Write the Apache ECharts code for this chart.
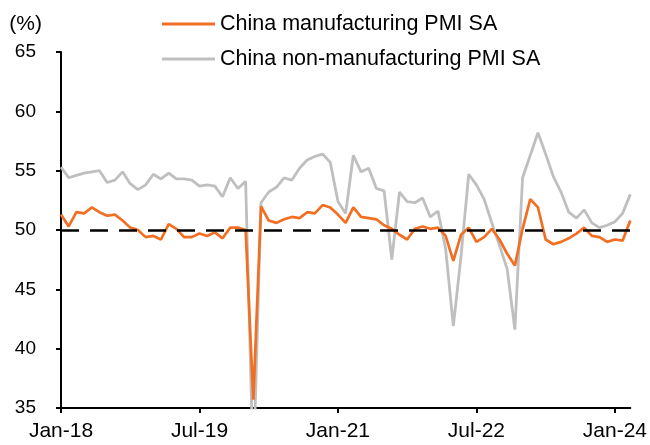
<!DOCTYPE html>
<html>
<head>
<meta charset="utf-8">
<script src="https://cdn.jsdelivr.net/npm/echarts@6/dist/echarts.min.js"></script>
<style>
html,body{margin:0;padding:0;background:#fff;}
#chart{width:650px;height:445px;}
</style>
</head>
<body>
<div id="chart"></div>
<script>
var monthNames = ['Jan','Feb','Mar','Apr','May','Jun','Jul','Aug','Sep','Oct','Nov','Dec'];
var years = ['18','19','20','21','22','23','24'];
var categories = [];
years.forEach(function (y) {
  monthNames.forEach(function (m) {
    categories.push(m + '-' + y);
  });
});
categories = categories.slice(0, 75);

var seriesNames = ['China manufacturing PMI SA', 'China non-manufacturing PMI SA'];

var mfgPMI = [
  51.3, 50.3, 51.5, 51.4, 51.9, 51.5, 51.2, 51.3, 50.8, 50.2, 50.0, 49.4,
  49.5, 49.2, 50.5, 50.1, 49.4, 49.4, 49.7, 49.5, 49.8, 49.3, 50.2, 50.2,
  50.0, 35.7, 52.0, 50.8, 50.6, 50.9, 51.1, 51.0, 51.5, 51.4, 52.1, 51.9,
  51.3, 50.6, 51.9, 51.1, 51.0, 50.9, 50.4, 50.1, 49.6, 49.2, 50.1, 50.3,
  50.1, 50.2, 49.5, 47.4, 49.6, 50.2, 49.0, 49.4, 50.1, 49.2, 48.0, 47.0,
  50.1, 52.6, 51.9, 49.2, 48.8, 49.0, 49.3, 49.7, 50.2, 49.5, 49.4, 49.0,
  49.2, 49.1, 50.8
];

var nonMfgPMI = [
  55.3, 54.4, 54.6, 54.8, 54.9, 55.0, 54.0, 54.2, 54.9, 53.9, 53.4, 53.8,
  54.7, 54.3, 54.8, 54.3, 54.3, 54.2, 53.7, 53.8, 53.7, 52.8, 54.4, 53.5,
  54.1, 29.6, 52.3, 53.2, 53.6, 54.4, 54.2, 55.2, 55.9, 56.2, 56.4, 55.7,
  52.4, 51.4, 56.3, 54.9, 55.2, 53.5, 53.3, 47.5, 53.2, 52.4, 52.3, 52.7,
  51.1, 51.6, 48.4, 41.9, 47.8, 54.7, 53.8, 52.6, 50.6, 48.7, 46.7, 41.6,
  54.4, 56.3, 58.2, 56.4, 54.5, 53.2, 51.5, 51.0, 51.7, 50.6, 50.2, 50.4,
  50.7, 51.4, 53.0
];

var thresholdValue = 50;
var yMin = 35, yMax = 65, yStep = 5;

var chart = echarts.init(document.getElementById('chart'), null, {renderer: 'canvas'});
var font = 'Liberation Sans, Arial, sans-serif';

chart.setOption({
  animation: false,
  backgroundColor: '#ffffff',
  textStyle: {fontFamily: font, color: '#000'},
  legend: {
    orient: 'vertical',
    left: 157,
    top: 7,
    itemWidth: 53,
    itemHeight: 3,
    itemGap: 11,
    icon: 'rect',
    textStyle: {fontFamily: font, fontSize: 21.5, color: '#000', lineHeight: 24},
    data: seriesNames
  },
  grid: {left: 61, right: 18, top: 52, bottom: 37, containLabel: false},
  xAxis: {
    type: 'category',
    data: categories,
    boundaryGap: false,
    axisLine: {show: true, lineStyle: {color: '#000', width: 2}},
    axisTick: {show: true, interval: 17, length: 5, lineStyle: {color: '#000', width: 2}},
    axisLabel: {interval: 17, margin: 13, fontSize: 21, fontFamily: font, color: '#000'},
    splitLine: {show: false}
  },
  yAxis: {
    type: 'value',
    min: yMin,
    max: yMax,
    interval: yStep,
    name: '(%)',
    nameLocation: 'end',
    nameGap: 28,
    nameTextStyle: {fontFamily: font, fontSize: 21, color: '#000', align: 'right', verticalAlign: 'middle', padding: [0, 19, 0, 0]},
    axisLine: {show: true, lineStyle: {color: '#000', width: 2}},
    axisTick: {show: true, length: 5, lineStyle: {color: '#000', width: 2}},
    axisLabel: {margin: 25, fontSize: 19, fontFamily: font, color: '#000'},
    splitLine: {show: false}
  },
  series: [
    {
      name: seriesNames[1],
      type: 'line',
      data: nonMfgPMI,
      symbol: 'none',
      clip: true,
      lineStyle: {color: '#BFBFBF', width: 2.8},
      itemStyle: {color: '#BFBFBF'},
      z: 2
    },
    {
      name: seriesNames[0],
      type: 'line',
      data: mfgPMI,
      symbol: 'none',
      clip: true,
      lineStyle: {color: '#F26E22', width: 2.7},
      itemStyle: {color: '#F26E22'},
      z: 3,
      markLine: {
        silent: true,
        symbol: ['none', 'none'],
        label: {show: false},
        lineStyle: {color: '#000', type: [18, 11], width: 2.5},
        data: [{yAxis: thresholdValue}],
        z: 4
      }
    }
  ]
});
</script>
</body>
</html>
